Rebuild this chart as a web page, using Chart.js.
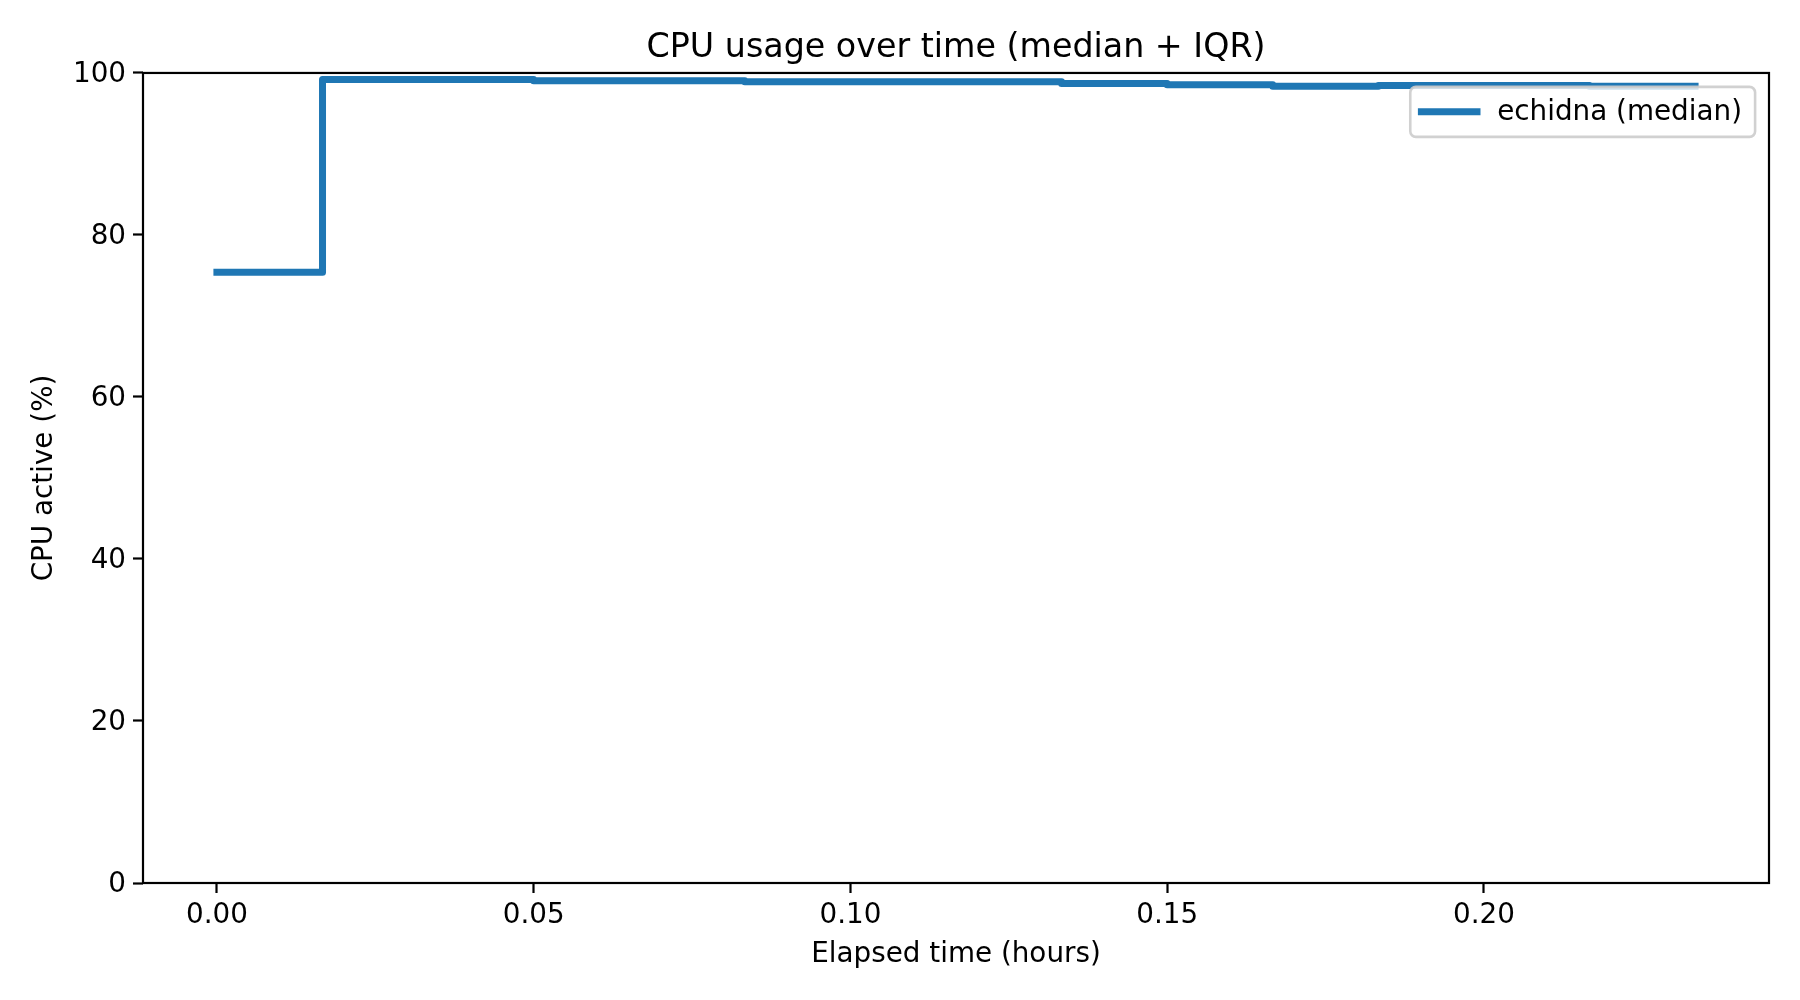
<!DOCTYPE html>
<html>
<head>
<meta charset="utf-8">
<title>CPU usage over time</title>
<script src="https://cdn.jsdelivr.net/npm/chart.js@4.4.1/dist/chart.umd.min.js"></script>
<style>
  html, body { margin: 0; padding: 0; background: #ffffff; }
  #wrap { width: 1800px; height: 1000px; }
</style>
</head>
<body>
<div id="wrap"><canvas id="cpuChart" width="1800" height="1000"></canvas></div>
<script>
// one sample per minute, expressed in hours
const elapsedHours = [0, 0.01667, 0.03333, 0.05, 0.06667, 0.08333, 0.1, 0.11667,
  0.13333, 0.15, 0.16667, 0.18333, 0.2, 0.21667, 0.23333];
const cpuMedian = [75.4, 99.2, 99.2, 99.05, 99.05, 98.9, 98.9, 98.9,
  98.7, 98.55, 98.35, 98.45, 98.45, 98.35, 98.35];
const xTickValues = [0, 0.05, 0.1, 0.15, 0.2];
const yTickValues = [0, 20, 40, 60, 80, 100];

const seriesLabel = "echidna (median)";
const lineColor = "#1f77b4";
const labelSize = 27.8;

Chart.defaults.font.family = "'DejaVu Sans', sans-serif";
Chart.defaults.color = "#000";

const framePlugin = {
  id: "frame",
  afterDatasetsDraw(chart) {
    const { ctx, chartArea: a } = chart;
    ctx.save();
    ctx.strokeStyle = "#000";
    ctx.lineWidth = 2.2;
    ctx.strokeRect(a.left, a.top, a.right - a.left, a.bottom - a.top);
    ctx.restore();
  },
};

// matplotlib-style legend box in the upper right of the plot area
const legendBoxPlugin = {
  id: "legendBox",
  afterDraw(chart) {
    const { ctx, chartArea: a } = chart;
    const ds = chart.data.datasets[0];
    const fs = labelSize;
    ctx.save();
    ctx.font = `${fs}px 'DejaVu Sans'`;
    const textW = ctx.measureText(ds.label).width;
    const pad = 0.4 * fs;
    const handle = 2 * fs;
    const gap = 0.8 * fs;
    const w = pad + handle + gap + textW + pad;
    const h = 50;
    const right = a.right - 0.5 * fs;
    const top = a.top + 0.5 * fs;
    const left = right - w;
    const midY = top + h / 2;

    ctx.beginPath();
    ctx.roundRect(left, top, w, h, 5.6);
    ctx.fillStyle = "rgba(255,255,255,0.8)";
    ctx.fill();
    ctx.strokeStyle = "rgba(204,204,204,0.9)";
    ctx.lineWidth = 2.6;
    ctx.stroke();

    ctx.beginPath();
    ctx.moveTo(left + pad, midY);
    ctx.lineTo(left + pad + handle, midY);
    ctx.strokeStyle = ds.borderColor;
    ctx.lineWidth = ds.borderWidth;
    ctx.lineCap = "square";
    ctx.stroke();

    ctx.fillStyle = "#000";
    ctx.textAlign = "left";
    ctx.textBaseline = "middle";
    ctx.fillText(ds.label, left + pad + handle + gap - 2, midY + 1);
    ctx.restore();
  },
};

const tickGrid = {
  drawOnChartArea: false,
  drawTicks: true,
  tickLength: 10,
  tickWidth: 2.2,
  tickColor: "#000",
};

new Chart(document.getElementById("cpuChart"), {
  type: "line",
  data: {
    datasets: [
      {
        label: seriesLabel,
        data: elapsedHours.map((x, i) => ({ x, y: cpuMedian[i] })),
        borderColor: lineColor,
        backgroundColor: lineColor,
        borderWidth: 7,
        borderCapStyle: "square",
        borderJoinStyle: "round",
        stepped: true,
        pointRadius: 0,
        fill: false,
      },
    ],
  },
  options: {
    responsive: false,
    animation: false,
    devicePixelRatio: 1,
    layout: {
      padding: { left: 0, right: 31, top: 0, bottom: 0 },
    },
    plugins: {
      legend: { display: false },
      tooltip: { enabled: false },
      title: {
        display: true,
        fullSize: false,
        text: "CPU usage over time (median + IQR)",
        color: "#000",
        font: { size: 33.3, weight: "normal" },
        padding: { top: 28, bottom: 5 },
      },
    },
    scales: {
      x: {
        type: "linear",
        min: -0.011667,
        max: 0.245,
        afterBuildTicks(scale) {
          scale.ticks = xTickValues.map((v) => ({ value: v }));
        },
        afterFit(scale) {
          scale.height = 117;
        },
        ticks: {
          autoSkip: false,
          maxRotation: 0,
          padding: 6,
          color: "#000",
          font: { size: labelSize },
          callback: (v) => Number(v).toFixed(2),
        },
        grid: tickGrid,
        border: { display: false },
        title: {
          display: true,
          text: "Elapsed time (hours)",
          color: "#000",
          font: { size: labelSize },
          padding: { top: 0, bottom: 29 },
        },
      },
      y: {
        min: 0,
        max: 100,
        afterBuildTicks(scale) {
          scale.ticks = yTickValues.map((v) => ({ value: v }));
        },
        afterFit(scale) {
          scale.width = 143;
        },
        ticks: {
          padding: 7,
          labelOffset: 2,
          color: "#000",
          font: { size: labelSize },
        },
        grid: tickGrid,
        border: { display: false },
        title: {
          display: true,
          text: "CPU active (%)",
          color: "#000",
          font: { size: labelSize },
          padding: { top: 28, bottom: 0 },
        },
      },
    },
  },
  plugins: [framePlugin, legendBoxPlugin],
});
</script>
</body>
</html>
